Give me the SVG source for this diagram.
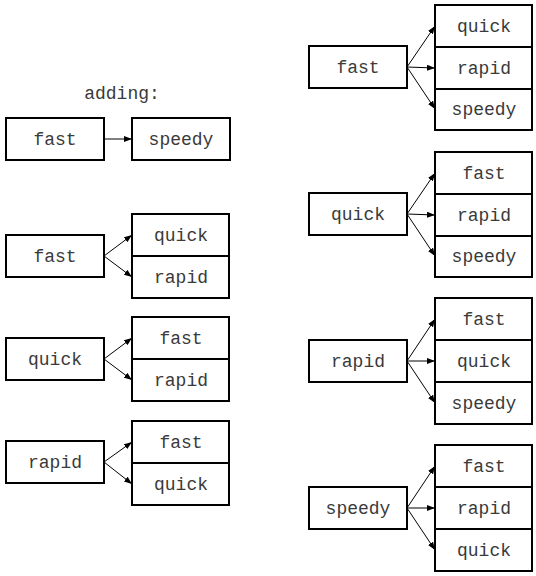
<svg xmlns="http://www.w3.org/2000/svg" width="536" height="576" viewBox="0 0 536 576">
<defs>
<marker id="ah" viewBox="0 0 8 6" refX="8" refY="3" markerWidth="8" markerHeight="6" markerUnits="userSpaceOnUse" orient="auto">
<path d="M0,0 L8,3 L0,6 Z" fill="#000"/>
</marker>
</defs>
<style>
rect{fill:#fff;stroke:#000;stroke-width:2}
text{font-family:"Liberation Mono","Courier New",monospace;font-size:18px;fill:#3a3a3a;text-anchor:middle}
.c line{stroke:#000;stroke-width:1;marker-end:url(#ah)}
</style>
<rect x="0" y="0" width="536" height="576" style="stroke:none;fill:#fff"/>
<text x="122" y="99">adding:</text>

<g id="L0">
<rect x="6" y="118" width="98" height="42"/><text x="55" y="145">fast</text>
<rect x="132" y="118" width="98" height="42"/><text x="181" y="145">speedy</text>
</g>

<g id="L1">
<rect x="6" y="235" width="98" height="42"/><text x="55" y="262">fast</text>
<rect x="132" y="214" width="97" height="42"/><text x="181" y="241">quick</text>
<rect x="132" y="256" width="97" height="42"/><text x="181" y="283">rapid</text>
</g>

<g id="L2">
<rect x="6" y="338" width="98" height="42"/><text x="55" y="365">quick</text>
<rect x="132" y="317" width="97" height="42"/><text x="181" y="344">fast</text>
<rect x="132" y="359" width="97" height="42"/><text x="181" y="386">rapid</text>
</g>

<g id="L3">
<rect x="6" y="441" width="98" height="42"/><text x="55" y="468">rapid</text>
<rect x="132" y="421" width="97" height="42"/><text x="181" y="448">fast</text>
<rect x="132" y="463" width="97" height="42"/><text x="181" y="490">quick</text>
</g>

<g id="R0">
<rect x="309" y="46" width="98" height="42"/><text x="358" y="73">fast</text>
<rect x="435" y="5" width="97" height="42"/><text x="484" y="32">quick</text>
<rect x="435" y="47" width="97" height="42"/><text x="484" y="74">rapid</text>
<rect x="435" y="89" width="97" height="41"/><text x="484" y="115">speedy</text>
</g>

<g id="R1">
<rect x="309" y="193" width="98" height="42"/><text x="358" y="220">quick</text>
<rect x="435" y="152" width="97" height="42"/><text x="484" y="179">fast</text>
<rect x="435" y="194" width="97" height="42"/><text x="484" y="221">rapid</text>
<rect x="435" y="236" width="97" height="41"/><text x="484" y="262">speedy</text>
</g>

<g id="R2">
<rect x="309" y="340" width="98" height="42"/><text x="358" y="367">rapid</text>
<rect x="435" y="298" width="97" height="42"/><text x="484" y="325">fast</text>
<rect x="435" y="340" width="97" height="42"/><text x="484" y="367">quick</text>
<rect x="435" y="382" width="97" height="42"/><text x="484" y="409">speedy</text>
</g>

<g id="R3">
<rect x="309" y="487" width="98" height="42"/><text x="358" y="514">speedy</text>
<rect x="435" y="445" width="97" height="42"/><text x="484" y="472">fast</text>
<rect x="435" y="487" width="97" height="42"/><text x="484" y="514">rapid</text>
<rect x="435" y="529" width="97" height="42"/><text x="484" y="556">quick</text>
</g>

<g id="connectors" class="c">
<line x1="104" y1="139" x2="132" y2="139"/>
<line x1="104" y1="256" x2="132" y2="235"/>
<line x1="104" y1="256" x2="132" y2="277"/>
<line x1="104" y1="359" x2="132" y2="338"/>
<line x1="104" y1="359" x2="132" y2="380"/>
<line x1="104" y1="462" x2="132" y2="442"/>
<line x1="104" y1="462" x2="132" y2="484"/>
<line x1="407" y1="67" x2="435" y2="26"/>
<line x1="407" y1="67" x2="435" y2="68"/>
<line x1="407" y1="67" x2="435" y2="109"/>
<line x1="407" y1="214" x2="435" y2="173"/>
<line x1="407" y1="214" x2="435" y2="215"/>
<line x1="407" y1="214" x2="435" y2="256"/>
<line x1="407" y1="361" x2="435" y2="319"/>
<line x1="407" y1="361" x2="435" y2="361"/>
<line x1="407" y1="361" x2="435" y2="403"/>
<line x1="407" y1="508" x2="435" y2="466"/>
<line x1="407" y1="508" x2="435" y2="508"/>
<line x1="407" y1="508" x2="435" y2="550"/>
</g>
</svg>
